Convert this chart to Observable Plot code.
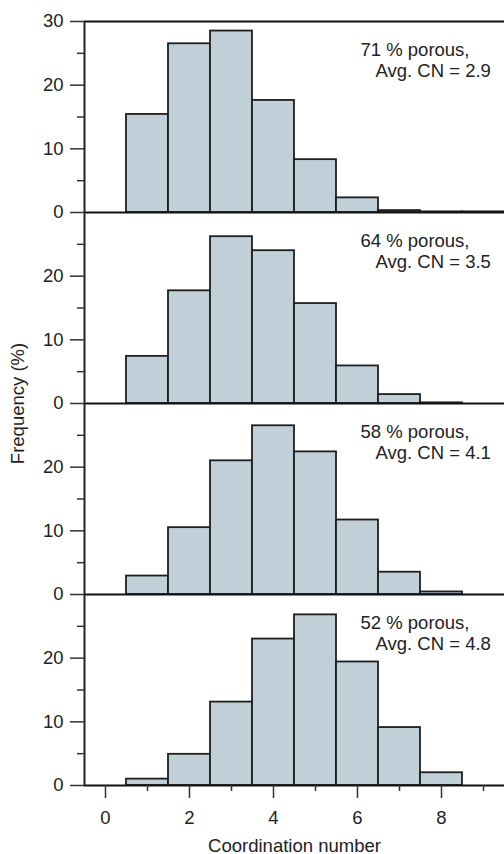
<!DOCTYPE html>
<html><head><meta charset="utf-8">
<script src="https://cdn.jsdelivr.net/npm/d3@7"></script>
<script src="https://cdn.jsdelivr.net/npm/@observablehq/plot@0.6"></script>
<style>body{margin:0;background:#fff}</style>
</head><body><div id="chart"></div>
<script>
// Coordination-number bins (bar centres)
const coordination = [0, 1, 2, 3, 4, 5, 6, 7, 8, 9];
// Panels, top to bottom
const porosity = [71, 64, 58, 52];
const avgCN = [2.9, 3.5, 4.1, 4.8];
// Frequency (%) per bin
const freq71 = [0, 15.4, 26.5, 28.5, 17.6, 8.3, 2.3, 0.3, 0.1, 0.1];
const freq64 = [0, 7.4, 17.7, 26.2, 24.0, 15.7, 5.9, 1.4, 0.1, 0];
const freq58 = [0, 2.9, 10.5, 21.0, 26.5, 22.4, 11.7, 3.5, 0.4, 0];
const freq52 = [0, 1.0, 4.9, 13.1, 23.0, 26.8, 19.4, 9.1, 2.0, 0];
// Axis ticks
const panelMax = 30;
const yMajorTicks = [0, 10, 20];
const yMinorTicks = [5, 15, 25];
const xMajorTicks = [0, 2, 4, 6, 8];
const xMinorTicks = [1, 3, 5, 7, 9];

const series = [freq71, freq64, freq58, freq52];
const nPanels = porosity.length;
const yMax = nPanels * panelMax;
const baseOf = i => (nPanels - 1 - i) * panelMax;

const bars = series.flatMap((vals, i) =>
  vals.map((v, j) => ({cn: coordination[j], freq: v, base: baseOf(i)})));
const panels = porosity.map((p, i) => ({p, avg: avgCN[i], base: baseOf(i)}));
const baselines = panels.map(d => d.base).concat([yMax]);
const yMajor = panels.flatMap(d => yMajorTicks.map(t => d.base + t)).concat([yMax]);
const yMinor = panels.flatMap(d => yMinorTicks.map(t => d.base + t));
const xMin = d3.min(coordination) - 0.5;
const xMax = d3.max(coordination) + 0.5;

const ink = "#222";
const chart = Plot.plot({
  width: 504,
  height: 854,
  marginLeft: 84,
  marginRight: 0,
  marginTop: 21,
  marginBottom: 69,
  style: {fontFamily: "'Liberation Sans', Arial, sans-serif", fontSize: "18.5px", color: ink, background: "#fff"},
  x: {domain: [xMin, xMax]},
  y: {domain: [0, yMax]},
  marks: [
    Plot.rectY(bars, {
      x1: d => d.cn - 0.5, x2: d => d.cn + 0.5,
      y1: "base", y2: d => d.base + d.freq,
      fill: "#c0cfd8", stroke: "#1e1e1e", strokeWidth: 1.8
    }),
    Plot.ruleY(baselines, {stroke: "#111", strokeWidth: 2}),
    Plot.ruleX([xMin], {stroke: "#222", strokeWidth: 2}),
    Plot.axisY(yMajor, {
      tickSize: 14, tickPadding: 7, stroke: "#333", strokeWidth: 1.5,
      tickFormat: d => String(d === yMax ? panelMax : d % panelMax),
      label: "Frequency (%)", labelAnchor: "center", labelOffset: 74, labelArrow: "none"
    }),
    Plot.axisY(yMinor, {tickSize: 7, stroke: "#333", strokeWidth: 1.5, tickFormat: () => "", label: null}),
    Plot.axisX(xMajorTicks, {
      tickSize: 13, tickPadding: 12, stroke: "#333", strokeWidth: 1.5,
      label: "Coordination number", labelAnchor: "center", labelOffset: 66, labelArrow: "none"
    }),
    Plot.axisX(xMinorTicks, {tickSize: 6, stroke: "#333", strokeWidth: 1.5, tickFormat: () => "", label: null}),
    Plot.text(panels, {
      y: d => d.base + panelMax, frameAnchor: "right", textAnchor: "start", lineAnchor: "top",
      dx: -144, dy: 21, text: d => `${d.p} % porous,`, fill: ink, fontSize: 18.5
    }),
    Plot.text(panels, {
      y: d => d.base + panelMax, frameAnchor: "right", textAnchor: "start", lineAnchor: "top",
      dx: -129, dy: 42, text: d => `Avg. CN = ${d.avg}`, fill: ink, fontSize: 18.5
    })
  ]
});
document.getElementById("chart").appendChild(chart);
</script>
</body></html>
